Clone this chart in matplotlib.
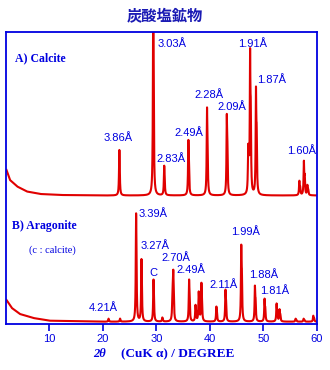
import numpy as np
import matplotlib
matplotlib.use("Agg")
import matplotlib.pyplot as plt

# Peak tables: 2theta (deg) and peak height (arb.)
calcite_pos = [23.07, 29.40, 31.45, 35.97, 39.45, 43.15, 47.15, 47.50, 48.60, 56.70, 57.55, 58.20]
calcite_height = [45.5, 200.0, 29.5, 55.5, 88.0, 81.5, 45.0, 143.5, 108.0, 14.5, 34.5, 10.0]
calcite_tail_x = [2.0, 2.65, 4.0, 5.8, 8.3, 12.0, 20.0, 60.0]
calcite_tail_y = [25.5, 15.5, 9.0, 4.0, 1.5, 0.5, 0.0, 0.0]

aragonite_pos = [21.05, 23.2, 26.20, 27.20, 29.45, 31.1, 33.00, 33.15, 36.10, 37.30, 37.90, 38.40,
                 41.20, 42.90, 45.85, 48.40, 50.20, 52.45, 53.00, 56.0, 57.5, 59.30]
aragonite_height = [3.0, 3.0, 108.0, 62.0, 42.0, 4.0, 28.0, 42.0, 42.0, 16.0, 29.0, 38.0,
                    15.0, 32.0, 77.0, 36.0, 23.0, 18.0, 12.0, 3.0, 3.0, 6.0]
aragonite_tail_x = [2.0, 3.0, 4.5, 7.0, 10.0, 17.0, 20.0, 60.0]
aragonite_tail_y = [21.7, 13.7, 7.7, 3.7, 1.0, 0.3, 0.0, 0.0]

calcite_labels = ["3.86Å", "3.03Å", "2.83Å", "2.49Å", "2.28Å", "2.09Å", "1.91Å", "1.87Å", "1.60Å"]
aragonite_labels = ["4.21Å", "3.39Å", "3.27Å", "C", "2.70Å", "2.49Å", "2.11Å", "1.99Å", "1.88Å", "1.81Å"]

# label placement (deg, plot units)
calcite_label_xy = [(22.8, 186), (32.9, 280), (32.7, 165), (36.1, 191), (39.8, 229),
                    (44.1, 217), (48.05, 280), (51.5, 244), (57.2, 173)]
aragonite_label_xy = [(20.1, 16), (29.3, 110), (29.7, 78), (29.4, 51), (33.7, 66),
                      (36.5, 54), (42.6, 39), (46.7, 92), (50.0, 49), (52.0, 33)]

RED = "#e00000"
BLUE = "#0000e0"
calcite_base = 128.5
aragonite_base = 2.3


# Build a diffraction trace from a peak table (Ka1 + Ka2 doublet)
def build_trace(two_theta, positions, heights, tail_x, tail_y):
    trace = np.interp(two_theta, tail_x, tail_y)
    fwhm = 0.14
    for pos, h in zip(positions, heights):
        shift = np.degrees(2 * np.tan(np.radians(pos / 2)) * 0.0025)
        prof = 1 / (1 + ((two_theta - pos) / (fwhm / 2)) ** 2)
        prof += 0.5 / (1 + ((two_theta - pos - shift) / (fwhm / 2)) ** 2)
        trace += h * prof / prof.max()
    return trace


two_theta = np.arange(2.0, 60.0, 0.01)
calcite = build_trace(two_theta, calcite_pos, calcite_height, calcite_tail_x, calcite_tail_y)
aragonite = build_trace(two_theta, aragonite_pos, aragonite_height, aragonite_tail_x, aragonite_tail_y)

fig = plt.figure(figsize=(3.3, 3.7), dpi=100)
fig.patch.set_facecolor("white")
ax = fig.add_axes([6.5 / 330, 46 / 370, (317 - 6.5) / 330, (324 - 32) / 370])

ax.plot(two_theta, calcite + calcite_base, color=RED, lw=1.5)
ax.plot(two_theta, aragonite + aragonite_base, color=RED, lw=1.5)

ax.set_xlim(2, 60)
ax.set_ylim(0, 292)
ax.set_yticks([])
ax.set_xticks([10, 20, 30, 40, 50, 60])
ax.tick_params(axis="x", direction="out", length=5, width=1.2, color=BLUE,
               labelcolor=BLUE, labelsize=8, pad=2)
for lab in ax.get_xticklabels():
    lab.set_fontfamily("Liberation Sans")
for sp in ax.spines.values():
    sp.set_color(BLUE)
    sp.set_linewidth(1.3)

for txt, (x, y) in zip(calcite_labels, calcite_label_xy):
    ax.text(x, y, txt, color=BLUE, fontsize=8, family="Liberation Sans", ha="center", va="center")
for txt, (x, y) in zip(aragonite_labels, aragonite_label_xy):
    ax.text(x, y, txt, color=BLUE, fontsize=8, family="Liberation Sans", ha="center", va="center")

# panel labels
fig.text(15 / 330, 1 - 58 / 370, "A) Calcite", color=BLUE, fontsize=8.5,
         family="Liberation Serif", weight="bold", ha="left", va="center")
fig.text(12 / 330, 1 - 226 / 370, "B) Aragonite", color=BLUE, fontsize=8.5,
         family="Liberation Serif", weight="bold", ha="left", va="center")
fig.text(29 / 330, 1 - 250 / 370, "(c : calcite)", color=BLUE, fontsize=7.5,
         family="Liberation Serif", ha="left", va="center")

fig.text(0.5, 1 - 15.7 / 370, "炭酸塩鉱物", color="#1a1ab4", fontsize=11,
         family=["Noto Sans CJK JP", "DejaVu Sans"], weight="bold", ha="center", va="center")

# x axis title, 2θ in italics
fig.text(93 / 330, 1 - 354 / 370, "2θ", color=BLUE, fontsize=9,
         family="Liberation Serif", weight="bold", style="italic", ha="left", va="center")
fig.text(121 / 330, 1 - 354 / 370, "(CuK α) / DEGREE", color=BLUE, fontsize=9.5,
         family="Liberation Serif", weight="bold", ha="left", va="center")

fig.savefig("out.png", dpi=100, facecolor="white")
